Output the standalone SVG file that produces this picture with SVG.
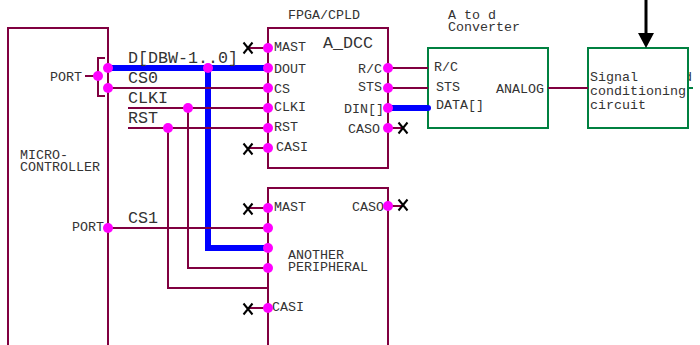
<svg xmlns="http://www.w3.org/2000/svg" width="700" height="345" viewBox="0 0 700 345">
<style>
text{font-family:"Liberation Mono","Courier New",monospace;fill:#333}
.s{font-size:13.33px}.m{font-size:16.67px}
.w{fill:none;stroke:#800040;stroke-width:2}
.g{fill:#fff;stroke:#008040;stroke-width:2}
.b{fill:#fff;stroke:#800040;stroke-width:2}
.bus{fill:none;stroke:#0000ff;stroke-width:6}
.x{fill:none;stroke:#000;stroke-width:2}
.d{fill:#ff00ff}
</style>
<defs>
<circle id="dot" r="5" class="d"/>
<path id="xm" d="M-4.5-5.5 4.5 5.5M4.5-5.5-4.5 5.5" class="x"/>
<clipPath id="cut"><rect x="689" y="0" width="4" height="345"/></clipPath>
</defs>
<g id="micro"><rect x="8" y="28" width="100" height="330" class="b"/>
<text class="s" x="50" y="81">PORT</text><text class="s" x="72" y="231">PORT</text>
<text class="s" x="20" y="159">MICRO-</text><text class="s" x="20" y="171">CONTROLLER</text></g>
<g id="a_dcc"><rect x="268" y="28" width="120" height="140" class="b"/>
<text class="s" x="288" y="19">FPGA/CPLD</text>
<text class="m" x="323" y="48">A_DCC</text>
<text class="s" x="274" y="51">MAST</text><text class="s" x="274" y="73">DOUT</text><text class="s" x="274" y="93">CS</text><text class="s" x="274" y="111">CLKI</text><text class="s" x="274" y="131">RST</text><text class="s" x="276" y="151">CASI</text>
<text class="s" x="358" y="73">R/C</text><text class="s" x="358" y="91">STS</text><text class="s" x="344" y="113">DIN[]</text><text class="s" x="348" y="133">CASO</text></g>
<g id="peripheral"><rect x="268" y="188" width="120" height="170" class="b"/>
<text class="s" x="274" y="211">MAST</text><text class="s" x="352" y="211">CASO</text>
<text class="s" x="288" y="259">ANOTHER</text><text class="s" x="288" y="271">PERIPHERAL</text>
<text class="s" x="272" y="311">CASI</text></g>
<g id="adc"><rect x="428" y="48" width="120" height="80" class="g"/>
<text class="s" x="448" y="19">A to d</text><text class="s" x="448" y="31">Converter</text>
<text class="s" x="434" y="71">R/C</text><text class="s" x="436" y="91">STS</text><text class="s" x="436" y="109">DATA[]</text><text class="s" x="496" y="93">ANALOG</text></g>
<g id="signal"><rect x="588" y="48" width="100" height="80" class="g"/>
<text class="s" x="590" y="81">Signal</text><text class="s" x="590" y="95">conditioning</text><text class="s" x="590" y="109">circuit</text>
<text class="s" x="684" y="81" clip-path="url(#cut)">d</text></g>
<g id="connectors">
<path class="bus" d="M108 68H268M208 68V248H268"/>
<path class="bus" stroke-linecap="round" d="M388 108H428"/>
<path class="w" d="M85 76H98M105 58H98V96H105"/>
<path class="w" d="M108 88H268M128 108H268M128 128H268M108 228H268"/>
<path class="w" d="M188 108V268H268M168 128V288H268"/>
<path class="w" d="M248 48H268M248 148H268M388 68H428M388 88H428M388 128H403M248 208H268M248 308H268M388 206H403M548 88H588"/>
<path d="M688 88H693" fill="none" stroke="#008040" stroke-width="2"/>
<path d="M646 0V34" fill="none" stroke="#000" stroke-width="3"/>
<path d="M638 33H654L646 48Z" fill="#000"/>
<g><use href="#xm" x="248" y="48"/><use href="#xm" x="248" y="149"/><use href="#xm" x="403" y="128"/><use href="#xm" x="248" y="209"/><use href="#xm" x="248" y="309"/><use href="#xm" x="403" y="205"/></g>
<g><use href="#dot" x="98" y="76"/><use href="#dot" x="108" y="68"/><use href="#dot" x="108" y="88"/><use href="#dot" x="208" y="68"/><use href="#dot" x="188" y="108"/><use href="#dot" x="168" y="128"/><use href="#dot" x="108" y="228"/>
<use href="#dot" x="268" y="48"/><use href="#dot" x="268" y="68"/><use href="#dot" x="268" y="88"/><use href="#dot" x="268" y="108"/><use href="#dot" x="268" y="128"/><use href="#dot" x="268" y="148"/>
<use href="#dot" x="388" y="68"/><use href="#dot" x="388" y="88"/><use href="#dot" x="388" y="108"/><use href="#dot" x="388" y="128"/>
<use href="#dot" x="268" y="208"/><use href="#dot" x="268" y="228"/><use href="#dot" x="268" y="248"/><use href="#dot" x="268" y="268"/><use href="#dot" x="268" y="308"/><use href="#dot" x="388" y="206"/></g>
</g>
<g id="labels">
<text class="m" x="128" y="63">D[DBW-1..0]</text><text class="m" x="128" y="83">CS0</text><text class="m" x="128" y="103">CLKI</text><text class="m" x="128" y="123">RST</text><text class="m" x="128" y="223">CS1</text>
</g>
</svg>
